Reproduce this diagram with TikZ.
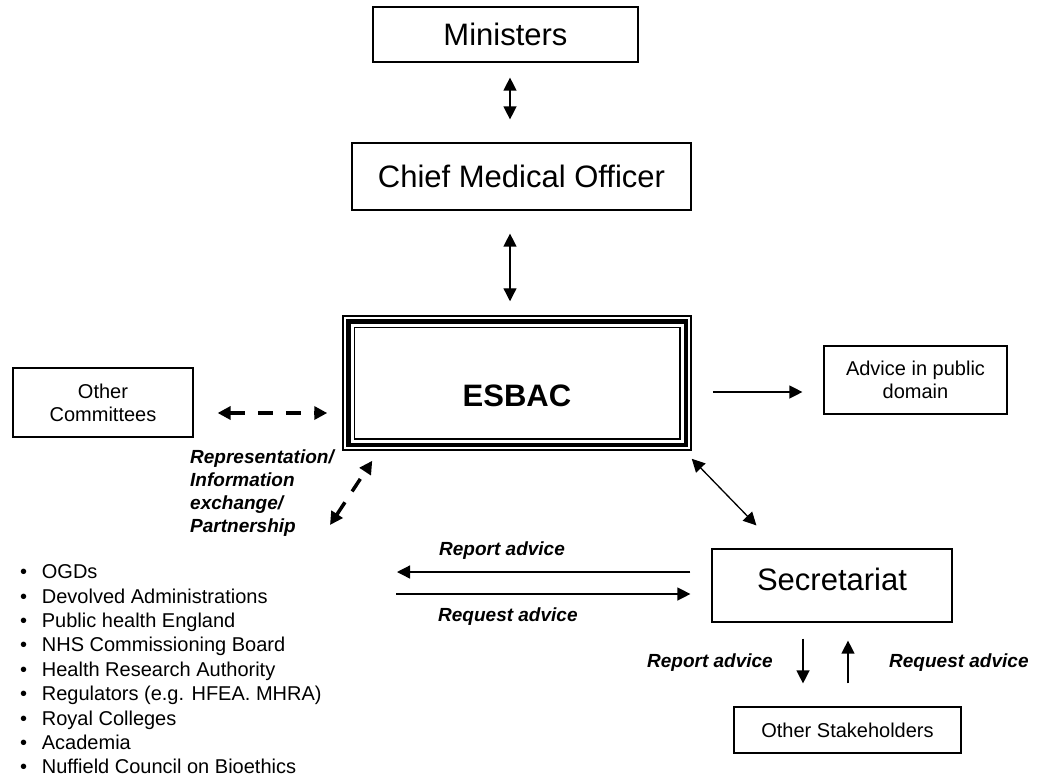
\documentclass[tikz,border=0pt]{standalone}
\usepackage{fontspec}
\setmainfont{Liberation Sans}
\usetikzlibrary{arrows.meta}

\begin{document}
\begin{tikzpicture}[x=1pt,y=-1pt,>={Triangle[length=13pt,width=13pt]},
  box/.style={draw,line width=1.2pt,inner sep=0pt,align=center},
  big/.style={font=\fontsize{31}{37}\selectfont},
  small/.style={font=\fontsize{20}{23}\selectfont},
  note/.style={font=\fontsize{19}{23}\selectfont\bfseries\itshape,inner sep=0pt},
  link/.style={line width=1.3pt},
  dlink/.style={line width=3.5pt,dash pattern=on 15pt off 13pt}]
  \useasboundingbox (0,0) rectangle (1041,780);

  % boxes
  \node[box,big,minimum width=265pt,minimum height=55pt] (min) at (505.5,34.5) {Ministers};
  \node[box,big,minimum width=339pt,minimum height=67pt] (cmo) at (521.5,176.5) {Chief Medical Officer};
  \node[box,big,font=\fontsize{31}{37}\selectfont\bfseries,line width=1.5pt,
        minimum width=348pt,minimum height=134pt,text height=46pt,text depth=0pt] (esbac) at (517,383) {ESBAC};
  \draw[line width=4.5pt] ([shift={(6pt,-6pt)}]esbac.north west) rectangle ([shift={(-6pt,6pt)}]esbac.south east);
  \draw[line width=1.5pt] ([shift={(12pt,-12pt)}]esbac.north west) rectangle ([shift={(-12pt,12pt)}]esbac.south east);
  \node[box,small,minimum width=180pt,minimum height=69pt] (oc) at (103,402.5) {Other\\Committees};
  \node[box,small,minimum width=183pt,minimum height=68pt] (adv) at (915.5,380) {Advice in public\\domain};
  \node[box,big,minimum width=240pt,minimum height=73pt,text depth=13pt] (sec) at (832,585.5) {Secretariat};
  \node[box,small,minimum width=227pt,minimum height=46pt] (stk) at (847.5,730) {Other Stakeholders};

  % labels
  \node[note,anchor=north west,align=left] (rep) at (190,450) {Representation/\\Information\\exchange/\\Partnership};
  \node[note,anchor=base west] (rpt1) at (439,555) {Report advice};
  \node[note,anchor=base west] (rqs1) at (438,621.5) {Request advice};
  \node[note,anchor=base east] (rpt2) at (773,667.5) {Report advice};
  \node[note,anchor=base west] (rqs2) at (889,667.5) {Request advice};

  \node[anchor=north west,align=left,inner sep=0pt,font=\fontsize{20}{24.4}\selectfont] (ogd) at (19.8,564.6)
    {•\hspace{14.9pt}OGDs\\
     •\hspace{14.9pt}Devolved Administrations\\
     •\hspace{14.9pt}Public health England\\
     •\hspace{14.9pt}NHS Commissioning Board\\
     •\hspace{14.9pt}Health Research Authority\\
     •\hspace{14.9pt}Regulators (e.g. HFEA. MHRA)\\
     •\hspace{14.9pt}Royal Colleges\\
     •\hspace{14.9pt}Academia\\
     •\hspace{14.9pt}Nuffield Council on Bioethics};

  \coordinate (pship) at (330,525);
  \coordinate (rptend) at (397,572);
  \coordinate (rqsend) at (396,594);

  % connectors
  \draw[<->,link,shorten <=15pt,shorten >=23pt] ([xshift=4.5pt]min.south) -- ([xshift=4.5pt]min.south |- cmo.north);
  \draw[<->,link,shorten <=23pt,shorten >=14pt] ([xshift=-11.5pt]cmo.south) -- ([xshift=-11.5pt]cmo.south |- esbac.north);
  \draw[<->,dlink,shorten <=24pt,shorten >=15pt] ([yshift=-10.5pt]oc.east) -- ([yshift=-10.5pt]oc.east -| esbac.west);
  \draw[->,link,shorten <=21pt,shorten >=21pt] ([yshift=-9pt]esbac.east) -- ([yshift=-9pt]esbac.east -| adv.west);
  \draw[<->,link] ([yshift=-8pt]esbac.south east) -- ([shift={(45pt,23pt)}]sec.north west);
  \draw[<->,dlink] (pship) -- ([shift={(30pt,-10pt)}]esbac.south west);
  \draw[->,link,shorten <=21pt] (rptend -| sec.west) -- (rptend);
  \draw[->,link,shorten >=21pt] (rqsend) -- (rqsend -| sec.west);
  \draw[->,link,shorten <=16pt,shorten >=23pt] ([xshift=-29pt]sec.south) -- ([xshift=-29pt]sec.south |- stk.north);
  \draw[->,link,shorten <=23pt,shorten >=18pt] ([xshift=16pt]sec.south |- stk.north) -- ([xshift=16pt]sec.south);
\end{tikzpicture}
\end{document}
